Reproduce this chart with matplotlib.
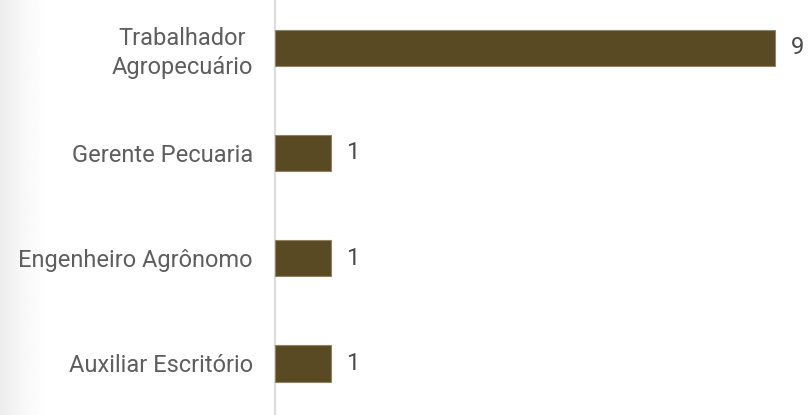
import matplotlib
matplotlib.use("Agg")
import matplotlib.pyplot as plt
import numpy as np

categories = ["Trabalhador\nAgropecuário", "Gerente Pecuaria", "Engenheiro Agrônomo", "Auxiliar Escritório"]
values = [9, 1, 1, 1]

plt.rcParams['font.family'] = ['Roboto', 'DejaVu Sans']

W, H = 808, 415
fig = plt.figure(figsize=(W/100, H/100), dpi=100)

# left gradient shadow
gax = fig.add_axes([0, 0, 48/W, 1])
xs = np.linspace(0, 1, 256)
grad = (0.915 + 0.085 * xs ** 0.6).reshape(1, -1)
gax.imshow(grad, aspect='auto', cmap='gray', vmin=0, vmax=1, extent=[0, 1, 0, 1])
gax.axis('off')

ax = fig.add_axes([275/W, 0, 1 - 275/W, 1])
ax.patch.set_alpha(0)
y = np.arange(len(categories))
ax.barh(y, values, height=0.352, color='#5a4a24', edgecolor='#8f8266', linewidth=0.8, zorder=3)
ax.set_ylim(3.495, -0.457)
ax.set_xlim(0, 533/55.6)
for s in ['top', 'right', 'bottom']:
    ax.spines[s].set_visible(False)
ax.spines['left'].set_color('#dcdcdc')
ax.spines['left'].set_linewidth(1.5)
ax.set_xticks([])
ax.set_yticks(y)
ax.set_yticklabels(categories, fontsize=17, color='#5e5e5e', linespacing=1.3)
for t in ax.get_yticklabels():
    t.set_multialignment('center')
ax.tick_params(axis='y', length=0, pad=16)
for yi, v in zip(y, values):
    ax.text(v + 0.27, yi, str(v), va='center', ha='left', fontsize=17, color='#4a4a4a')

fig.savefig("out.png", dpi=100)
